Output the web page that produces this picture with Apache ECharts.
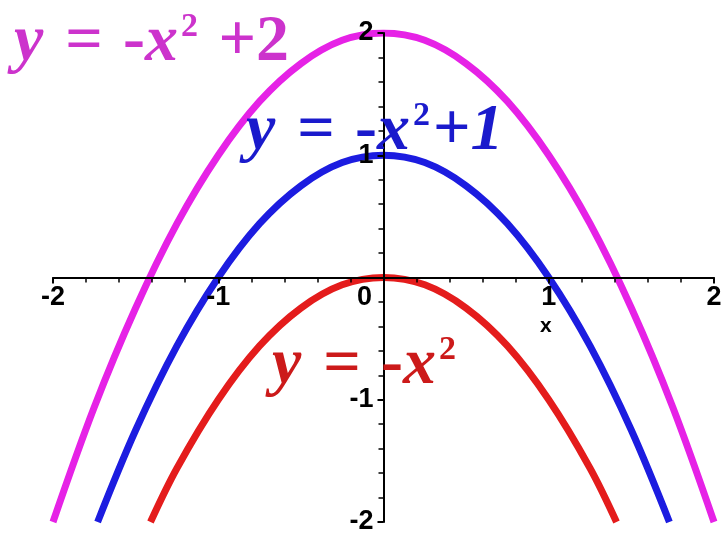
<!DOCTYPE html>
<html>
<head>
<meta charset="utf-8">
<script src="https://cdn.jsdelivr.net/npm/echarts@6/dist/echarts.min.js"></script>
<style>
  html, body { margin: 0; padding: 0; background: #fff; }
  #chart { width: 722px; height: 539px; }
</style>
</head>
<body>
<div id="chart"></div>
<script>
const xTop = [-2, -1.75, -1.5, -1.25, -1, -0.75, -0.5, -0.25, 0, 0.25, 0.5, 0.75, 1, 1.25, 1.5, 1.75, 2]
const yTop = [-2, -1.06, -0.25, 0.44, 1, 1.44, 1.75, 1.94, 2, 1.94, 1.75, 1.44, 1, 0.44, -0.25, -1.06, -2]

const xMid = [-1.73, -1.5, -1.25, -1, -0.75, -0.5, -0.25, 0, 0.25, 0.5, 0.75, 1, 1.25, 1.5, 1.73]
const yMid = [-2, -1.25, -0.56, 0, 0.44, 0.75, 0.94, 1, 0.94, 0.75, 0.44, 0, -0.56, -1.25, -2]

const xLow = [-1.41, -1.25, -1, -0.75, -0.5, -0.25, 0, 0.25, 0.5, 0.75, 1, 1.25, 1.41]
const yLow = [-2, -1.56, -1, -0.56, -0.25, -0.06, 0, -0.06, -0.25, -0.56, -1, -1.56, -2]

const colors = { top: '#e622e6', mid: '#1c1ce0', low: '#e41c1c' }
const textColors = { top: '#cc33cc', mid: '#1a1acc', low: '#cc1a1a' }

const labelFont = "'Liberation Sans Narrow', 'Liberation Sans', Arial, sans-serif"
const eqFont = "'Liberation Serif', 'Times New Roman', serif"

const W = 722, H = 539
const grid = { left: 53, right: 8, top: 33, bottom: 17 }

const pairs = (xs, ys) => xs.map((x, i) => [x, ys[i]])

const eqRich = color => ({
  i: { fontFamily: eqFont, fontStyle: 'italic', fontWeight: 'bold', fontSize: 66, fill: color },
  iy: { fontFamily: eqFont, fontStyle: 'italic', fontWeight: 'bold', fontSize: 66, fill: color, padding: [0, 22, 0, 0] },
  eq: { fontFamily: eqFont, fontWeight: 'bold', fontSize: 66, fill: color, padding: [0, 20, 0, 0] },
  n: { fontFamily: eqFont, fontWeight: 'bold', fontSize: 66, fill: color },
  s: { fontFamily: eqFont, fontWeight: 'bold', fontSize: 34, fill: color, verticalAlign: 'top', padding: [0, 3, 28, 3] },
  gap: { fontSize: 20, padding: [0, 12, 0, 0] }
})

const chart = echarts.init(document.getElementById('chart'))

// axes placed through the origin by offset, so labels follow the lines
const xRange = [-2, 2], yRange = [-2, 2]
const plotW = W - grid.left - grid.right
const plotH = H - grid.top - grid.bottom
const yAxisOffset = -plotW * (0 - xRange[0]) / (xRange[1] - xRange[0])
const xAxisOffset = -plotH * (0 - yRange[0]) / (yRange[1] - yRange[0])

const axisCommon = {
  type: 'value',
  min: -2,
  max: 2,
  interval: 1,
  z: 5,
  axisLine: { onZero: false, lineStyle: { color: '#000', width: 2 } },
  axisTick: { length: 6, lineStyle: { color: '#000', width: 2 } },
  minorTick: { show: true, splitNumber: 5, length: 5, lineStyle: { color: '#000', width: 1.5 } },
  splitLine: { show: false }
}

chart.setOption({
  animation: false,
  grid: Object.assign({ containLabel: false, outerBoundsMode: 'none' }, grid),
  xAxis: Object.assign({}, axisCommon, {
    position: 'bottom',
    offset: xAxisOffset,
    axisLabel: {
      color: '#000',
      fontFamily: labelFont,
      fontWeight: 'bold',
      fontSize: 27,
      margin: 7,
      formatter: v => v === 0 ? '{z|0}' : String(v),
      rich: { z: { fontFamily: labelFont, fontWeight: 'bold', fontSize: 27, color: '#000', padding: [0, 38, 0, 0] } }
    }
  }),
  yAxis: Object.assign({}, axisCommon, {
    position: 'left',
    offset: yAxisOffset,
    axisLabel: {
      color: '#000',
      fontFamily: labelFont,
      fontWeight: 'bold',
      fontSize: 27,
      margin: 10,
      formatter: v => v === 0 ? '' : String(v)
    }
  }),
  graphic: [
    {
      type: 'text', left: 14, top: 10, z: 10,
      style: { text: '{iy|y}{eq|=}{n|-}{i|x}{s|2}{gap| }{n|+2}', rich: eqRich(textColors.top) }
    },
    {
      type: 'text', left: 246, top: 99, z: 10,
      style: { text: '{iy|y}{eq|=}{n|-}{i|x}{s|2}{n|+}{i|1}', rich: eqRich(textColors.mid) }
    },
    {
      type: 'text', left: 272, top: 333, z: 10,
      style: { text: '{iy|y}{eq|=}{n|-}{i|x}{s|2}', rich: eqRich(textColors.low) }
    },
    {
      type: 'text', left: 540, top: 316, z: 10,
      style: { text: 'x', fontFamily: labelFont, fontWeight: 'bold', fontSize: 21, fill: '#000' }
    }
  ],
  series: [
    { name: 'top', type: 'line', z: 1, smooth: 0.35, symbol: 'none', data: pairs(xTop, yTop), lineStyle: { color: colors.top, width: 7 } },
    { name: 'mid', type: 'line', z: 1, smooth: 0.35, symbol: 'none', data: pairs(xMid, yMid), lineStyle: { color: colors.mid, width: 7 } },
    { name: 'low', type: 'line', z: 1, smooth: 0.35, symbol: 'none', data: pairs(xLow, yLow), lineStyle: { color: colors.low, width: 7 } }
  ]
})
</script>
</body>
</html>
